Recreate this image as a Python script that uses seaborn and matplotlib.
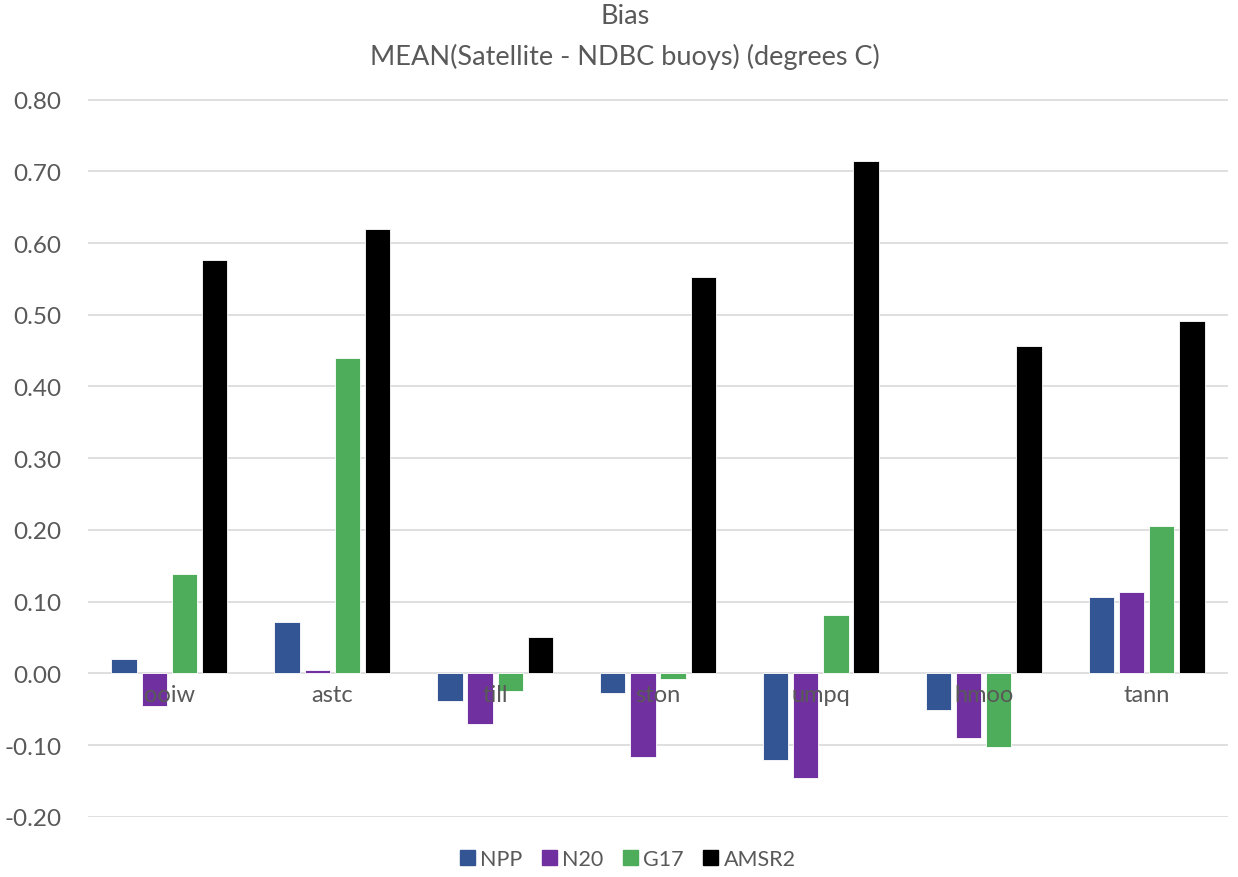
import matplotlib
matplotlib.use("Agg")
import matplotlib.pyplot as plt
import pandas as pd
import seaborn as sns

stations = ['ooiw', 'astc', 'till', 'ston', 'umpq', 'hmoo', 'tann']
sensors = ['NPP', 'N20', 'G17', 'AMSR2']
npp = [0.020, 0.072, -0.038, -0.028, -0.121, -0.051, 0.107]
n20 = [-0.046, 0.005, -0.071, -0.117, -0.146, -0.090, 0.114]
g17 = [0.138, 0.440, -0.025, -0.008, 0.082, -0.103, 0.206]
amsr2 = [0.577, 0.619, 0.051, 0.553, 0.714, 0.456, 0.491]
colors = ['#335593', '#7030A0', '#4EAD5B', '#000000']

rows = []
for name, vals in zip(sensors, [npp, n20, g17, amsr2]):
    for st, v in zip(stations, vals):
        rows.append({'station': st, 'sensor': name, 'bias': v})
df = pd.DataFrame(rows)

sns.set_theme(style='white')
plt.rcParams['font.family'] = ['Lato', 'DejaVu Sans']
txt = '#595959'

fig = plt.figure(figsize=(12.38, 8.78), dpi=100)
ax = fig.add_axes([0.071, 0.068, 0.921, 0.818])
sns.barplot(data=df, x='station', y='bias', hue='sensor', order=stations,
            hue_order=sensors, palette=colors, saturation=1, width=0.74,
            gap=0.16, edgecolor='white', linewidth=0.6, ax=ax, legend=False,
            zorder=3)

ax.set_ylim(-0.2008, 0.8008)
ax.set_xlim(-0.5, 6.5)
ax.set_yticks([-0.2, -0.1, 0, 0.1, 0.2, 0.3, 0.4, 0.5, 0.6, 0.7, 0.8])
ax.set_yticklabels(['%.2f' % t for t in ax.get_yticks()])
ax.tick_params(axis='y', labelsize=17.5, colors=txt, length=0, pad=19)
ax.grid(axis='y', color='#D9D9D9', linewidth=1.2, zorder=0)
ax.set_axisbelow(True)
for s in ax.spines.values():
    s.set_visible(False)
ax.set_xticks([])
ax.set_xlabel('')
ax.set_ylabel('')

for i, st in enumerate(stations):
    ax.annotate(st, (i, 0), xytext=(0, -8), textcoords='offset points',
                ha='center', va='top', fontsize=17, color=txt, zorder=5)

fig.text(0.505, 1 - 17 / 878, 'Bias', ha='center', va='center',
         fontsize=19.5, color=txt)
fig.text(0.505, 1 - 57 / 878, 'MEAN(Satellite - NDBC buoys) (degrees C)',
         ha='center', va='center', fontsize=19.5, color=txt)

handles = [plt.Rectangle((0, 0), 1, 1, color=c) for c in colors]
fig.legend(handles, sensors, loc='center', bbox_to_anchor=(0.507, 1 - 860 / 878),
           ncol=4, frameon=False, fontsize=15.5, labelcolor=txt,
           handlelength=0.7, handleheight=0.7, handletextpad=0.25,
           columnspacing=0.9)

fig.savefig('out.png', dpi=100)
